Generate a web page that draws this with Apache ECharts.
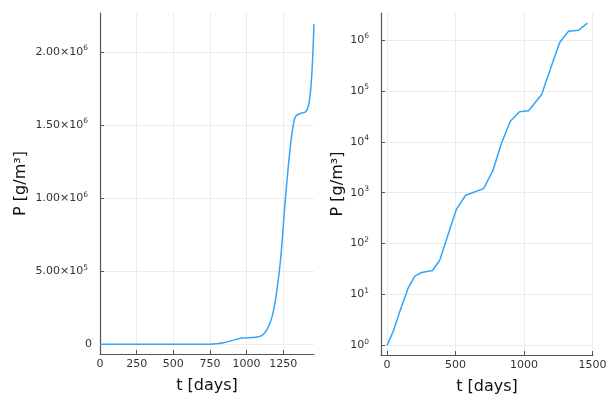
<!DOCTYPE html>
<html>
<head>
<meta charset="utf-8">
<script src="https://cdn.jsdelivr.net/npm/echarts@6/dist/echarts.min.js"></script>
<style>html,body{margin:0;padding:0;background:#fff}#c{width:607px;height:394px}</style>
</head>
<body>
<div id="c"></div>
<script>
// Left panel (linear scale)
const tLin = [0, 200, 330, 500, 575, 700, 773, 844, 912, 969, 1060, 1106, 1140, 1175, 1204, 1232, 1266, 1296, 1314, 1334, 1368, 1403, 1426, 1444, 1460];
const pLin = [1, 23, 30, 450, 900, 1200, 2700, 11000, 29000, 43000, 48000, 61000, 102000, 193000, 350000, 580000, 1010000, 1330000, 1470000, 1557000, 1580000, 1590000, 1650000, 1830000, 2190000];
// Right panel (log scale)
const tLog = [0, 46, 94, 155, 203, 252, 332, 385, 446, 506, 574, 705, 773, 833, 899, 967, 1034, 1129, 1197, 1262, 1325, 1398, 1463];
const pLog = [1, 1.9, 4.7, 13.5, 23, 27, 29.5, 47, 151, 468, 890, 1200, 2700, 8900, 25000, 39000, 40700, 85000, 290000, 900000, 1480000, 1550000, 2150000];
// Tick labels
const xTicksLin = [0, 250, 500, 750, 1000, 1250];
const yTicksLin = [0, 500000, 1000000, 1500000, 2000000];
const xTicksLog = [0, 500, 1000, 1500];
const yTicksLog = [1, 10, 100, 1000, 10000, 100000, 1000000];
const xName = 't [days]';
const yName = 'P [g/m³]';

const FONT = 'DejaVu Sans';
const AX = '#555';
const GRID = '#ebebeb';
const LINE = '#33a5f8';
const TXT = '#333';

function sci(v) {
  if (v === 0) return '{n|0}';
  const e = Math.floor(Math.log10(v) + 1e-9);
  const m = v / Math.pow(10, e);
  return '{n|' + m.toFixed(2) + '×10}{s|' + e + '}{g| }';
}
function pow10(v) {
  const e = Math.round(Math.log10(v));
  return '{n|10}{s|' + e + '}{g| }';
}
const rich = {
  n: {fontFamily: FONT, fontSize: 11, color: TXT, lineHeight: 15},
  s: {fontFamily: FONT, fontSize: 7.5, color: TXT, lineHeight: 8, verticalAlign: 'top'},
  g: {fontFamily: FONT, fontSize: 7, width: 4, lineHeight: 8}
};

function xAxis(idx, min, max, ticks) {
  return {
    type: 'value', gridIndex: idx, min: min, max: max,
    name: xName, nameLocation: 'middle', nameGap: 24,
    nameTextStyle: {fontFamily: FONT, fontSize: 16, color: '#111'},
    axisLine: {show: true, onZero: false, lineStyle: {color: AX, width: 1.2}},
    axisTick: {show: true, inside: true, length: 4, customValues: ticks, lineStyle: {color: AX}},
    axisLabel: {customValues: ticks, formatter: v => String(v), fontFamily: FONT, fontSize: 11, color: TXT, margin: 5},
    splitLine: {show: true, lineStyle: {color: GRID, width: 1}}
  };
}
function yAxis(idx, type, min, max, ticks, fmt, gap) {
  return {
    type: type, gridIndex: idx, min: min, max: max, logBase: 10,
    name: yName, nameLocation: 'middle', nameGap: gap,
    nameTextStyle: {fontFamily: FONT, fontSize: 16, color: '#111'},
    axisLine: {show: true, onZero: false, lineStyle: {color: AX, width: 1.2}},
    axisTick: {show: true, inside: true, length: 4, customValues: ticks, lineStyle: {color: AX}},
    axisLabel: {customValues: ticks, formatter: fmt, rich: rich, margin: 8},
    splitLine: {show: true, lineStyle: {color: GRID, width: 1}}
  };
}

const chart = echarts.init(document.getElementById('c'), null, {renderer: 'canvas'});
chart.setOption({
  animation: false,
  backgroundColor: '#fff',
  grid: [
    {left: 100, top: 13, width: 214, height: 341, outerBoundsMode: 'none', containLabel: false},
    {left: 381, top: 13, width: 212, height: 342, outerBoundsMode: 'none', containLabel: false}
  ],
  xAxis: [
    xAxis(0, 0, 1460, xTicksLin),
    xAxis(1, -44, 1504, xTicksLog)
  ],
  yAxis: [
    yAxis(0, 'value', -66000, 2266000, yTicksLin, sci, 71),
    yAxis(1, 'log', 0.646, 3390000, yTicksLog, pow10, 35)
  ],
  series: [
    {type: 'line', xAxisIndex: 0, yAxisIndex: 0, data: tLin.map((t, i) => [t, pLin[i]]),
     showSymbol: false, smooth: 0.35, lineStyle: {color: LINE, width: 1.5}},
    {type: 'line', xAxisIndex: 1, yAxisIndex: 1, data: tLog.map((t, i) => [t, pLog[i]]),
     showSymbol: false, lineStyle: {color: LINE, width: 1.5}}
  ]
});
</script>
</body>
</html>
